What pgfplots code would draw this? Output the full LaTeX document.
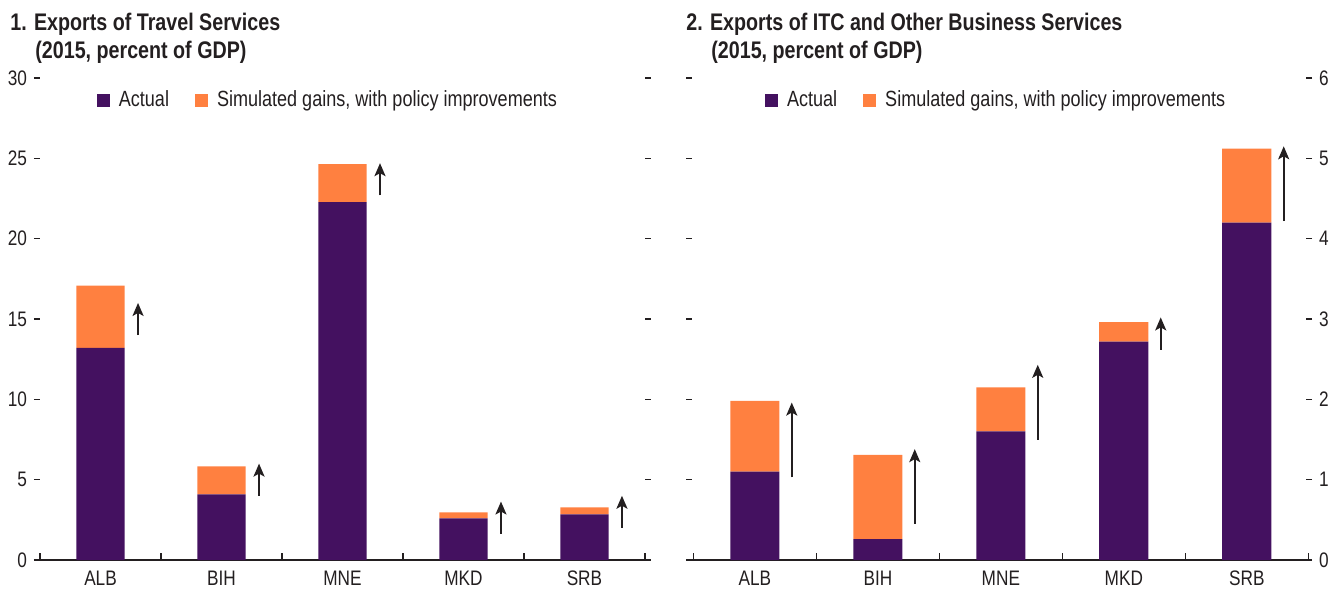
\documentclass[border=0pt]{standalone}
\usepackage{fontspec}
\setmainfont{Liberation Sans}[FakeStretch=0.82]
\usepackage{pgfplots}
\pgfplotsset{compat=1.18}
\usetikzlibrary{arrows.meta}
\definecolor{actual}{HTML}{441160}
\definecolor{gain}{HTML}{FF8040}
\definecolor{txt}{HTML}{231F20}
\pgfplotsset{
  panel/.style={
    scale only axis, height=241pt, ymin=0,
    axis x line*=bottom, axis y line*=box,
    y axis line style={draw=none},
    x axis line style={line width=0.8pt, color=txt},
    tick align=inside,
    xtick={0,...,4}, xticklabels={ALB,BIH,MNE,MKD,SRB},
    major x tick style={draw=none},
    minor xtick={-0.5,0.5,...,4.5},
    minor tick length=3.5pt, major tick length=3pt,
    tick style={color=txt, line width=0.6pt},
    tick label style={font=\fontsize{10.5}{12}\selectfont, color=txt},
    /pgf/number format/assume math mode=true,
    xticklabel style={yshift=-2pt},
    ybar stacked, bar width=0.4,
    legend columns=-1,
    legend style={draw=none, fill=none, inner sep=0pt,
      font=\fontsize{11}{13}\selectfont, text=txt,
      /tikz/every odd column/.append style={column sep=2.5pt},
      /tikz/every even column/.append style={column sep=11pt}},
    legend image code/.code={\fill[##1] (0pt,-3.25pt) rectangle (6.5pt,3.25pt);},
  },
  arrowaxis/.style={scale only axis, height=241pt, ymin=0, hide axis},
  arr/.style={txt, line width=1pt},
  arrq/.style={quiver={u=0, v=\thisrow{v},
    every arrow/.append style={-{Stealth[length=6.5pt,width=5.5pt,inset=1.5pt]}, line width=1pt, txt}}},
}
\begin{document}
\begin{tikzpicture}
\useasboundingbox (0,0) rectangle (669pt,295.5pt);
\node[anchor=base west, inner sep=0, font=\bfseries\fontsize{12}{14}\selectfont, text=txt] at (5pt,280.5pt) {1. Exports of Travel Services};
\node[anchor=base west, inner sep=0, font=\bfseries\fontsize{12}{14}\selectfont, text=txt] at (17.5pt,266.5pt) {(2015, percent of GDP)};
\node[anchor=base west, inner sep=0, font=\bfseries\fontsize{12}{14}\selectfont, text=txt] at (343pt,280.5pt) {2. Exports of ITC and Other Business Services};
\node[anchor=base west, inner sep=0, font=\bfseries\fontsize{12}{14}\selectfont, text=txt] at (355.5pt,266.5pt) {(2015, percent of GDP)};

\begin{axis}[panel, at={(17pt,15.5pt)}, anchor=south west, width=308.5pt,
  xmin=-0.55, xmax=4.55, ymax=30, ytick={0,5,...,30}, yticklabel pos=left,
  legend style={at={(0.478,0.954)}, anchor=center}]
\addplot[draw=none, fill=actual] coordinates {(0,13.2) (1,4.08) (2,22.28) (3,2.59) (4,2.84)};
\addplot[draw=none, fill=gain] coordinates {(0,3.87) (1,1.74) (2,2.36) (3,0.37) (4,0.43)};
\legend{Actual, Simulated gains{,} with policy improvements}
\end{axis}
\begin{axis}[arrowaxis, at={(17pt,15.5pt)}, anchor=south west, width=308.5pt,
  xmin=-0.55, xmax=4.55, ymax=30]
\addplot[arr, arrq] table[x=x, y=y] {
x y v
0.31 14.0 2.0
1.31 4.0 2.0
2.31 22.7 2.0
3.31 1.64 2.0
4.31 2.0 2.0
};
\end{axis}

\begin{axis}[panel, at={(343pt,15.5pt)}, anchor=south west, width=313pt,
  xmin=-0.56, xmax=4.53, ymax=6, ytick={0,...,6}, yticklabel pos=right,
  legend style={at={(0.497,0.954)}, anchor=center}]
\addplot[draw=none, fill=actual] coordinates {(0,1.10) (1,0.26) (2,1.60) (3,2.72) (4,4.20)};
\addplot[draw=none, fill=gain] coordinates {(0,0.88) (1,1.05) (2,0.55) (3,0.24) (4,0.92)};
\legend{Actual, Simulated gains{,} with policy improvements}
\end{axis}
\begin{axis}[arrowaxis, at={(343pt,15.5pt)}, anchor=south west, width=313pt,
  xmin=-0.56, xmax=4.53, ymax=6]
\addplot[arr, arrq] table[x=x, y=y] {
x y v
0.30 1.03 0.93
1.30 0.45 0.93
2.30 1.50 0.93
3.30 2.62 0.40
4.30 4.22 0.93
};
\end{axis}
\end{tikzpicture}
\end{document}
